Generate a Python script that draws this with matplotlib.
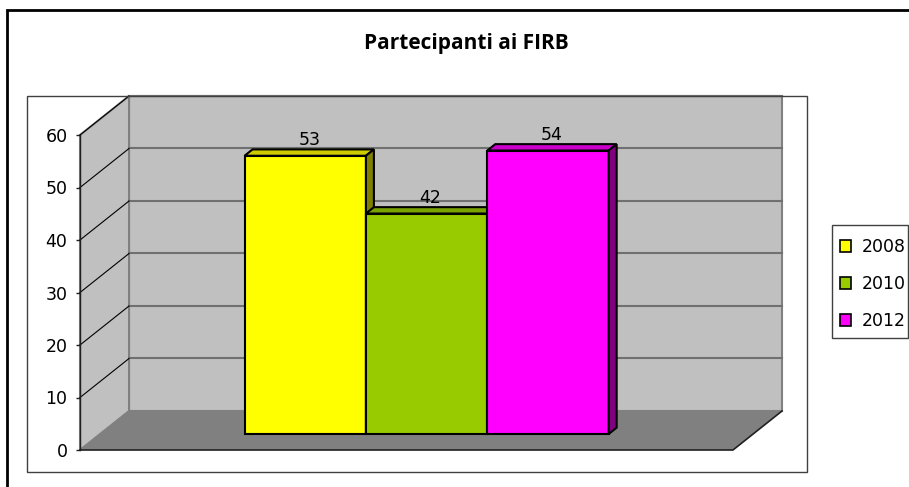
import matplotlib
matplotlib.use("Agg")
import matplotlib.pyplot as plt
from matplotlib.patches import Polygon, Rectangle, Patch

# ---- data ----
title = "Partecipanti ai FIRB"
series = ["2008", "2010", "2012"]
values = [53, 42, 54]
yticks = [0, 10, 20, 30, 40, 50, 60]

# ---- style ----
front_cols = ["#FFFF00", "#99CC00", "#FF00FF"]
top_cols = ["#CCCC00", "#7AA300", "#CC00CC"]
side_cols = ["#808000", "#4D6600", "#800080"]
wall_col = "#C0C0C0"
floor_col = "#808080"

W, H = 909, 487
fig = plt.figure(figsize=(W / 100, H / 100), dpi=100)

# axes = front plane of the 3D box
ax = fig.add_axes([80 / W, (H - 450) / H, 653 / W, 315 / H])
XMIN, XMAX = -2.69, 2.69
ax.set_xlim(XMIN, XMAX)
ax.set_ylim(0, 60)
ax.patch.set_visible(False)
for s in ["top", "right", "bottom"]:
    ax.spines[s].set_visible(False)
ax.spines["left"].set_color("#202020")
ax.spines["left"].set_linewidth(1.0)
ax.spines["left"].set_zorder(10)
ax.set_xticks([])
ax.set_yticks(yticks)
ax.tick_params(axis="y", length=3, width=1, color="#202020", pad=6,
               labelsize=12.5, labelcolor="black")

# oblique depth projection (data units per unit of depth)
DX, DY = 0.404, 7.43


def P(x, v, d):
    return (x + DX * d, v + DY * d)


VTOP = yticks[-1]

# back wall
ax.add_patch(Polygon([P(XMIN, 0, 1), P(XMAX, 0, 1), P(XMAX, VTOP, 1), P(XMIN, VTOP, 1)],
                     closed=True, facecolor=wall_col, edgecolor="#808080", lw=1.5,
                     clip_on=False, zorder=1))
# left wall
ax.add_patch(Polygon([P(XMIN, 0, 0), P(XMIN, 0, 1), P(XMIN, VTOP, 1), P(XMIN, VTOP, 0)],
                     closed=True, facecolor=wall_col, edgecolor="#808080", lw=1.5,
                     clip_on=False, zorder=1))
# gridlines
for t in yticks[1:]:
    x0, y0 = P(XMIN, t, 1)
    x1, y1 = P(XMAX, t, 1)
    ax.plot([x0, x1], [y0, y1], color="#707070", lw=1.5, clip_on=False, zorder=2)
    a0, b0 = P(XMIN, t, 0)
    ax.plot([a0, x0], [b0, y0], color="#000000", lw=0.8, clip_on=False, zorder=2)
# floor
ax.add_patch(Polygon([P(XMIN, 0, 0), P(XMAX, 0, 0), P(XMAX, 0, 1), P(XMIN, 0, 1)],
                     closed=True, facecolor=floor_col, edgecolor="none",
                     clip_on=False, zorder=3))
fx = [P(XMIN, 0, 0)[0], P(XMAX, 0, 0)[0], P(XMAX, 0, 1)[0]]
fy = [P(XMIN, 0, 0)[1], P(XMAX, 0, 0)[1], P(XMAX, 0, 1)[1]]
ax.plot(fx, fy, color="#202020", lw=1.2, clip_on=False, zorder=3)

# bars (3D boxes)
D0, D1 = 0.41, 0.573
BW = 1.0
for i, (lab, v) in enumerate(zip(series, values)):
    xc = i - (len(values) - 1) / 2
    xl, xr = xc - BW / 2, xc + BW / 2
    kw = dict(closed=True, edgecolor="black", lw=1.5, clip_on=False, zorder=5 + i,
              joinstyle="miter")
    ax.add_patch(Polygon([P(xl, 0, D0), P(xr, 0, D0), P(xr, v, D0), P(xl, v, D0)],
                         facecolor=front_cols[i], **kw))
    ax.add_patch(Polygon([P(xl, v, D0), P(xr, v, D0), P(xr, v, D1), P(xl, v, D1)],
                         facecolor=top_cols[i], **kw))
    ax.add_patch(Polygon([P(xr, 0, D0), P(xr, 0, D1), P(xr, v, D1), P(xr, v, D0)],
                         facecolor=side_cols[i], **kw))
    tx, _ = P(xc, v, (D0 + D1) / 2)
    ax.annotate(str(v), (tx, P(xc, v, D1)[1]), xytext=(0, 0), textcoords="offset points",
                ha="center", va="bottom", fontsize=12.5, color="black", zorder=20,
                annotation_clip=False)

# plot-area border
fig.patches.append(Rectangle((27 / W, 1 - 472 / H), 780 / W, 376 / H,
                             transform=fig.transFigure, fill=False,
                             edgecolor="#404040", lw=1.0, zorder=0))
# outer chart border (cropped at right/bottom)
fig.patches.append(Rectangle((7 / W, -0.1), 1.2, 1 - 10 / H + 0.1,
                             transform=fig.transFigure, fill=False,
                             edgecolor="black", lw=2.0, zorder=0))

fig.text(466 / W, 1 - 44 / H, title, ha="center", va="center",
         fontsize=15, fontweight="bold", family="Open Sans")

# legend frame + entries
fig.patches.append(Rectangle((832 / W, 1 - 338 / H), 76 / W, 113 / H,
                             transform=fig.transFigure, facecolor="white",
                             edgecolor="#404040", lw=1.0, zorder=1))
handles = [Patch(facecolor=c, edgecolor="black", lw=1.2) for c in front_cols]
leg = fig.legend(handles, series, loc="upper left",
                 bbox_to_anchor=(840 / W, 1 - 238 / H), bbox_transform=fig.transFigure,
                 fontsize=12.5, frameon=False, borderpad=0, labelspacing=1.1,
                 handlelength=0.62, handleheight=0.62, handletextpad=0.65,
                 borderaxespad=0)
leg.set_zorder(5)

fig.savefig("out.png", dpi=100)
